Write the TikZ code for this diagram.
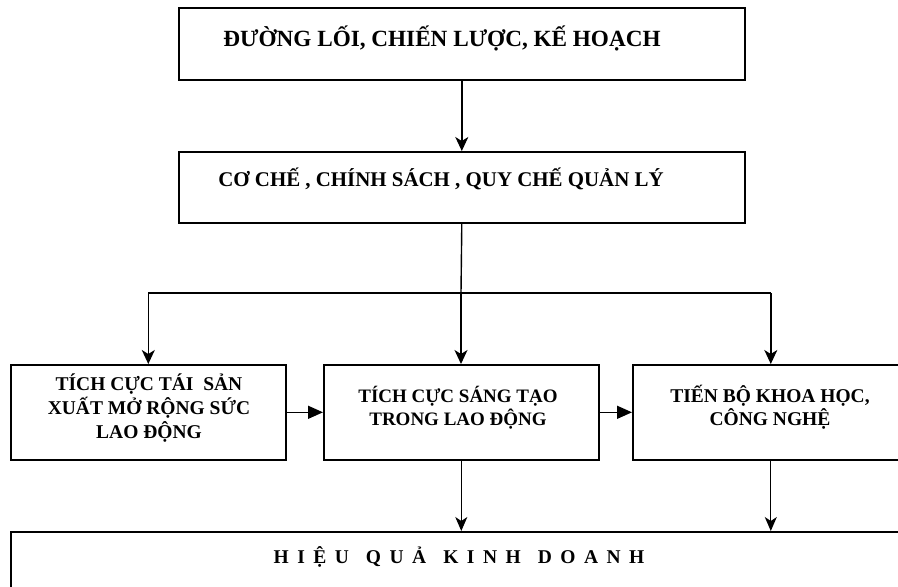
\documentclass[tikz,border=0pt]{standalone}
\usepackage{fontspec}
\setmainfont{Liberation Serif}
\usetikzlibrary{arrows.meta}
\begin{document}
\begin{tikzpicture}[x=1pt,y=-1pt,
  box/.style={draw, line width=1.6pt, inner sep=0pt, anchor=north west},
  txt/.style={font=\bfseries\fontsize{19.5}{23.5}\selectfont, inner sep=0pt, anchor=base},
  arrA/.style={line width=1.4pt, -{Stealth[length=14pt,width=13pt,inset=4pt]}},
  arrB/.style={line width=1.1pt, -{Stealth[length=14pt,width=12pt,inset=4pt]}},
  arrH/.style={line width=1.4pt, -{Triangle[length=15pt,width=13pt]}},
  plain/.style={line width=1.4pt}]
\useasboundingbox (0,0) rectangle (898,587);
\clip (0,0) rectangle (898,587);
% boxes
\node[box, minimum width=566pt, minimum height=72pt] (dl) at (178,7) {};
\node[box, minimum width=566pt, minimum height=71pt] (cc) at (178,151) {};
\node[box, minimum width=275pt, minimum height=95pt] (tt) at (10,364) {};
\node[box, minimum width=275pt, minimum height=95pt] (sa) at (323,364) {};
\node[box, minimum width=276pt, minimum height=95pt] (kh) at (632,364) {};
\node[box, minimum width=900pt, minimum height=120pt] (hq) at (10,531) {};
% texts
\node[txt, font=\bfseries\fontsize{23.2}{28}\selectfont] (tdl) at (442,46) {ĐƯỜNG LỐI, CHIẾN LƯỢC, KẾ HOẠCH};
\node[txt, font=\bfseries\fontsize{20.9}{25}\selectfont] (tcc) at (441,186) {CƠ CHẾ , CHÍNH SÁCH , QUY CHẾ QUẢN LÝ};
\node[txt] (ttt) at (149,390) {\begin{tabular}[t]{@{}c@{}}TÍCH CỰC TÁI\ \ SẢN\\ XUẤT MỞ RỘNG SỨC\\ LAO ĐỘNG\end{tabular}};
\node[txt, font=\bfseries\fontsize{19}{23.5}\selectfont] (tsa) at (458,402) {\begin{tabular}[t]{@{}c@{}}TÍCH CỰC SÁNG TẠO\\ TRONG LAO ĐỘNG\end{tabular}};
\node[txt] (tkh) at (770,402) {\begin{tabular}[t]{@{}c@{}}TIẾN BỘ KHOA HỌC,\\ CÔNG NGHỆ\end{tabular}};
\node[txt] (thq) at (459,563) {H\hspace{8.5pt}I\hspace{8.5pt}Ệ\hspace{8.5pt}U\hspace{17pt}Q\hspace{8.5pt}U\hspace{8.5pt}Ả\hspace{17pt}K\hspace{8.5pt}I\hspace{8.5pt}N\hspace{8.5pt}H\hspace{17pt}D\hspace{8.5pt}O\hspace{8.5pt}A\hspace{8.5pt}N\hspace{8.5pt}H};
% connectors
\coordinate (j) at (461,293);
\draw[arrA] (dl.south) -- (cc.north);
\draw[plain] (cc.south) -- (j);
\draw[plain] (j -| tt.north) -- (j -| kh.north);
\draw[arrA] (j -| tt.north) -- (tt.north);
\draw[arrA] (j) -- (j |- sa.north);
\draw[arrA] (j -| kh.north) -- (kh.north);
\draw[arrH] (tt.east) -- (sa.west);
\draw[arrH] (sa.east) -- (kh.west);
\draw[arrB] (sa.south) -- (sa.south |- hq.north);
\draw[arrB] (kh.south) -- (kh.south |- hq.north);
\end{tikzpicture}
\end{document}
